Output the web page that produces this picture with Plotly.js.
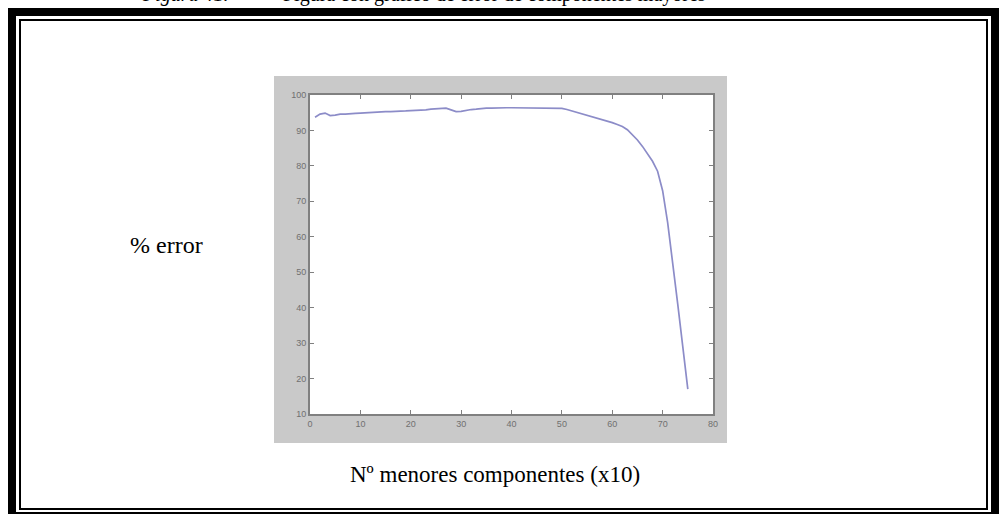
<!DOCTYPE html>
<html>
<head>
<meta charset="utf-8">
<script src="https://cdn.plot.ly/plotly-3.0.1.min.js"></script>
<style>html,body{margin:0;padding:0;background:#fff;}#chart{width:999px;height:514px;}</style>
</head>
<body>
<div id="chart"></div>
<script>
// Data
var componentes = [1,2,3,4,5,6,7,8,9,10,11,12,13,14,15,16,17,18,19,20,21,22,23,24,25,26,27,28,29,30,31,32,33,34,35,36,37,38,39,40,41,42,43,44,45,46,47,48,49,50,51,52,53,54,55,56,57,58,59,60,61,62,63,64,65,66,67,68,69,70,71,72,73,74,75];
var errorPct = [93.7,94.6,94.9,94.2,94.3,94.6,94.6,94.8,94.8,94.9,95.0,95.0,95.2,95.4,95.3,95.3,95.3,95.4,95.5,95.6,95.6,95.7,95.8,96.0,96.1,96.2,96.3,95.8,95.3,95.4,95.7,95.9,96.0,96.2,96.3,96.3,96.4,96.4,96.4,96.4,96.4,96.4,96.4,96.3,96.3,96.3,96.3,96.3,96.3,96.2,95.9,95.5,95.1,94.8,94.3,93.8,93.4,93.0,92.6,92.2,91.7,91.1,90.2,88.8,87.3,85.5,83.3,81.3,78.5,73.0,64.0,53.0,41.0,29.0,17.0];
var xTicks = [0,10,20,30,40,50,60,70,80];
var yTicks = [10,20,30,40,50,60,70,80,90,100];
var figCaptionNum = "Figura 41.";
var figCaptionText = "Figura con gráfico de error de componentes mayores";
var yLabel = "% error";
var xLabel = "Nº menores componentes (x10)";

// pixel helpers (plot area: x 310..713, y 95..414)
var L = 310, R = 713, T = 95, B = 414;
function px(p){ return (p - L) / (R - L); }
function py(p){ return (B - p) / (B - T); }
function rect(x0, y0, x1, y1, color, layer){
  return {type:'rect', xref:'paper', yref:'paper', x0:px(x0), x1:px(x1), y0:py(y1), y1:py(y0),
          fillcolor:color, line:{width:0}, layer:layer||'below'};
}

var shapes = [
  rect(274, 76, 727, 443, '#c9c9c9'),
  rect(L, T, R, B, '#ffffff'),
  // outer thick frame
  rect(8, 8, 16, 520, '#000', 'above'),
  rect(8, 8, 1002, 16, '#000', 'above'),
  rect(991, 8, 1002, 520, '#000', 'above'),
  rect(8, 512, 1002, 520, '#000', 'above'),
  // inner thin frame
  rect(19, 19, 21, 510, '#000', 'above'),
  rect(19, 19, 988, 21, '#000', 'above'),
  rect(986, 19, 988, 510, '#000', 'above'),
  rect(19, 508, 988, 510, '#000', 'above')
];

var serif = '"Liberation Serif", "Times New Roman", serif';
var annotations = [
  {xref:'paper', yref:'paper', x:px(166), y:py(245), text:yLabel, showarrow:false,
   xanchor:'center', yanchor:'middle', font:{family:serif, size:24, color:'#000'}},
  {xref:'paper', yref:'paper', x:px(495), y:py(474), text:xLabel, showarrow:false,
   xanchor:'center', yanchor:'middle', font:{family:serif, size:23, color:'#000'}},
  {xref:'paper', yref:'paper', x:px(140), y:py(-5), text:'<i>' + figCaptionNum + '</i>', showarrow:false,
   xanchor:'left', yanchor:'middle', font:{family:serif, size:20, color:'#000'}},
  {xref:'paper', yref:'paper', x:px(281), y:py(-5), text:figCaptionText, showarrow:false,
   xanchor:'left', yanchor:'middle', font:{family:serif, size:20, color:'#000'}}
];

var trace = {
  x: componentes, y: errorPct, type:'scatter', mode:'lines',
  line:{color:'#8c8cc8', width:1.7}, hoverinfo:'none'
};

var axisCommon = {
  showline:true, linecolor:'#808080', linewidth:2, mirror:'ticks',
  ticks:'inside', ticklen:4, tickwidth:1, tickcolor:'#808080',
  showgrid:false, zeroline:false,
  tickfont:{family:'Arial, sans-serif', size:9, color:'#707070'}
};

var layout = {
  width:999, height:514,
  margin:{l:L, r:999-R, t:T, b:514-B, pad:0},
  paper_bgcolor:'#ffffff', plot_bgcolor:'#ffffff',
  showlegend:false,
  xaxis: Object.assign({}, axisCommon, {range:[0,80], tickvals:xTicks, ticktext:xTicks.map(String)}),
  yaxis: Object.assign({}, axisCommon, {range:[10,100], tickvals:yTicks, ticktext:yTicks.map(String)}),
  shapes: shapes,
  annotations: annotations
};

Plotly.newPlot('chart', [trace], layout, {staticPlot:true, displayModeBar:false});
</script>
</body>
</html>
